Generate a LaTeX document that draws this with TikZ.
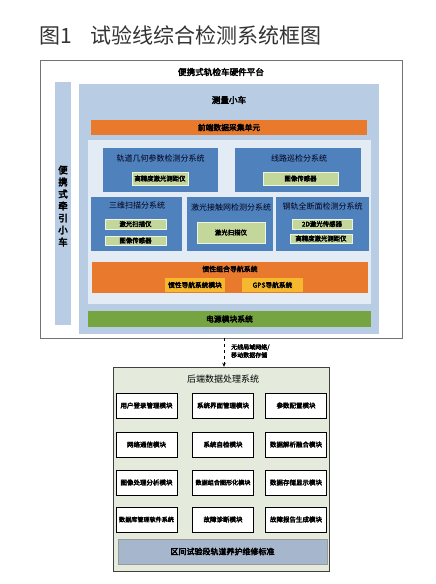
\documentclass[tikz,border=0pt]{standalone}
\usepackage{fontspec}
\usetikzlibrary{arrows.meta}
\setmainfont{Noto Sans CJK SC}[AutoFakeBold=3.5]
\definecolor{cartblue}{HTML}{B8CCE4}
\definecolor{paleblue}{HTML}{E3EBF5}
\definecolor{blockblue}{HTML}{4F81BD}
\definecolor{boxgreen}{HTML}{C4D79B}
\definecolor{navorange}{HTML}{E8792D}
\definecolor{navyellow}{HTML}{F5B82E}
\definecolor{powergreen}{HTML}{76A440}
\definecolor{backfill}{HTML}{E4EADC}
\definecolor{barblue}{HTML}{A6B6CC}
\tikzset{
  area/.style={inner sep=0pt, draw=none},
  subsys/.style={area, fill=blockblue},
  device/.style={area, fill=boxgreen, draw=white!70!boxgreen, font=\bfseries\fontsize{6.4}{7}\selectfont},
  caption/.style={inner sep=0pt, font=\bfseries\fontsize{8.6}{10}\selectfont},
  subtitle/.style={inner sep=0pt, text=black!90!blue, font=\fontsize{8}{9}\selectfont},
  module/.style={draw=black, fill=white, inner sep=0pt, minimum width=61pt, minimum height=25pt, font=\bfseries\fontsize{6.5}{7}\selectfont},
}
\begin{document}
\begin{tikzpicture}[x=1pt,y=-1pt]
\useasboundingbox[fill=white] (0,0) rectangle (436,584);
\node[anchor=west, inner sep=0pt, text=black!80, font=\fontsize{21}{24}\selectfont] (figtitle) at (39,35) {图1\hspace{19pt}试验线综合检测系统框图};

% hardware platform
\node[draw=black!55, line width=0.9pt, fill=white, inner sep=0pt, minimum width=362pt, minimum height=278pt] (platform) at (221,199) {};
\node[caption] (platformname) at (221,72) {便携式轨检车硬件平台};
\node[area, fill=cartblue, minimum width=16pt, minimum height=243pt] (tractor) at (63,203.5) {};
\node[caption, align=center, font=\bfseries\fontsize{9.5}{12}\selectfont] (tractorname) at (63,206) {便\\携\\式\\牵\\引\\小\\车};
\node[area, fill=cartblue, minimum width=300pt, minimum height=250pt] (cart) at (229,209) {};
\node[caption] (cartname) at (229,100) {测量小车};
\node[area, fill=navorange, minimum width=276pt, minimum height=15pt, font=\bfseries\fontsize{7.8}{9}\selectfont] (frontend) at (229,127.5) {前端数据采集单元};
\node[area, fill=paleblue, minimum width=283pt, minimum height=164pt] (inner) at (229.5,222) {};

% subsystems
\node[subsys, minimum width=115pt, minimum height=44pt] (geometry) at (160.5,170) {};
\node[subtitle] (geometryname) at (160.5,158) {轨道几何参数检测分系统};
\node[device, minimum width=56pt, minimum height=13pt] (geometryranger) at (160,178.5) {高精度激光测距仪};
\node[subsys, minimum width=126pt, minimum height=44pt] (patrol) at (298,170) {};
\node[subtitle] (patrolname) at (299,158) {线路巡检分系统};
\node[device, minimum width=75pt, minimum height=13pt] (patrolcam) at (300.5,178.5) {图像传感器};
\node[subsys, minimum width=91pt, minimum height=54pt] (scan) at (136.5,224) {};
\node[subtitle] (scanname) at (137,205) {三维扫描分系统};
\node[device, minimum width=61pt, minimum height=10pt] (scanlaser) at (135.5,224) {激光扫描仪};
\node[device, minimum width=61pt, minimum height=9pt] (scancam) at (135.5,240.5) {图像传感器};
\node[subsys, minimum width=86pt, minimum height=54pt] (catenary) at (230,224) {};
\node[subtitle] (catenaryname) at (231,207) {激光接触网检测分系统};
\node[device, minimum width=68pt, minimum height=21pt] (catenarylaser) at (231,232.5) {激光扫描仪};
\node[subsys, minimum width=93pt, minimum height=54pt] (rail) at (322.5,224) {};
\node[subtitle] (railname) at (322.5,206) {钢轨全断面检测分系统};
\node[device, minimum width=60pt, minimum height=10pt] (railsensor) at (322,224) {2D激光传感器};
\node[device, minimum width=62pt, minimum height=9pt] (railranger) at (321,238.5) {高精度激光测距仪};

% navigation and power
\node[area, fill=navorange, minimum width=276pt, minimum height=31pt] (nav) at (230,277.5) {};
\node[inner sep=0pt, font=\bfseries\fontsize{6.9}{8}\selectfont] (navname) at (230,269) {惯性组合导航系统};
\node[area, fill=navyellow, minimum width=60pt, minimum height=14pt, font=\bfseries\fontsize{6.7}{8}\selectfont] (inertial) at (195,285) {惯性导航系统模块};
\node[area, fill=navyellow, minimum width=61pt, minimum height=14pt, font=\bfseries\fontsize{6.7}{8}\selectfont] (gps) at (272.5,285) {GPS导航系统};
\node[area, fill=powergreen, minimum width=283pt, minimum height=16pt, font=\bfseries\fontsize{7.8}{9}\selectfont] (power) at (229.5,319) {电源模块系统};

% back end
\node[draw=black!75, fill=backfill, inner sep=0pt, minimum width=216pt, minimum height=204pt] (backend) at (221,469) {};
\node[inner sep=0pt, font=\fontsize{9}{10}\selectfont] (backendname) at (223,379) {后端数据处理系统};
\draw[dashed, line width=0.8pt, -{Stealth[length=4pt,width=3.5pt]}] ([xshift=3pt]platform.south) -- ([xshift=3pt]backend.north);
\node[anchor=west, align=left, inner sep=0pt, font=\bfseries\fontsize{6}{8}\selectfont] (link) at (231,351) {无线局域网络/\\移动数据存储};

\node[module] (login) at (146.5,405.5) {用户登录管理模块};
\node[module] (ui) at (223,405.5) {系统界面管理模块};
\node[module] (config) at (296,405.5) {参数配置模块};
\node[module] (network) at (146.5,444.5) {网络通信模块};
\node[module] (selftest) at (223,444.5) {系统自检模块};
\node[module] (fusion) at (296,444.5) {数据解析融合模块};
\node[module] (image) at (146.5,482.5) {图像处理分析模块};
\node[module, font=\bfseries\fontsize{6.1}{7}\selectfont] (graphic) at (223,482.5) {数据组合图形化模块};
\node[module] (storage) at (296,482.5) {数据存储显示模块};
\node[module, font=\bfseries\fontsize{6.1}{7}\selectfont] (database) at (146.5,519.5) {数据库管理软件系统};
\node[module] (diagnosis) at (223,519.5) {故障诊断模块};
\node[module] (report) at (296,519.5) {故障报告生成模块};
\node[draw=black!40, fill=barblue, inner sep=0pt, minimum width=209pt, minimum height=25pt, font=\bfseries\fontsize{8}{9}\selectfont] (standard) at (222.5,551.5) {区间试验段轨道养护维修标准};
\end{tikzpicture}
\end{document}
